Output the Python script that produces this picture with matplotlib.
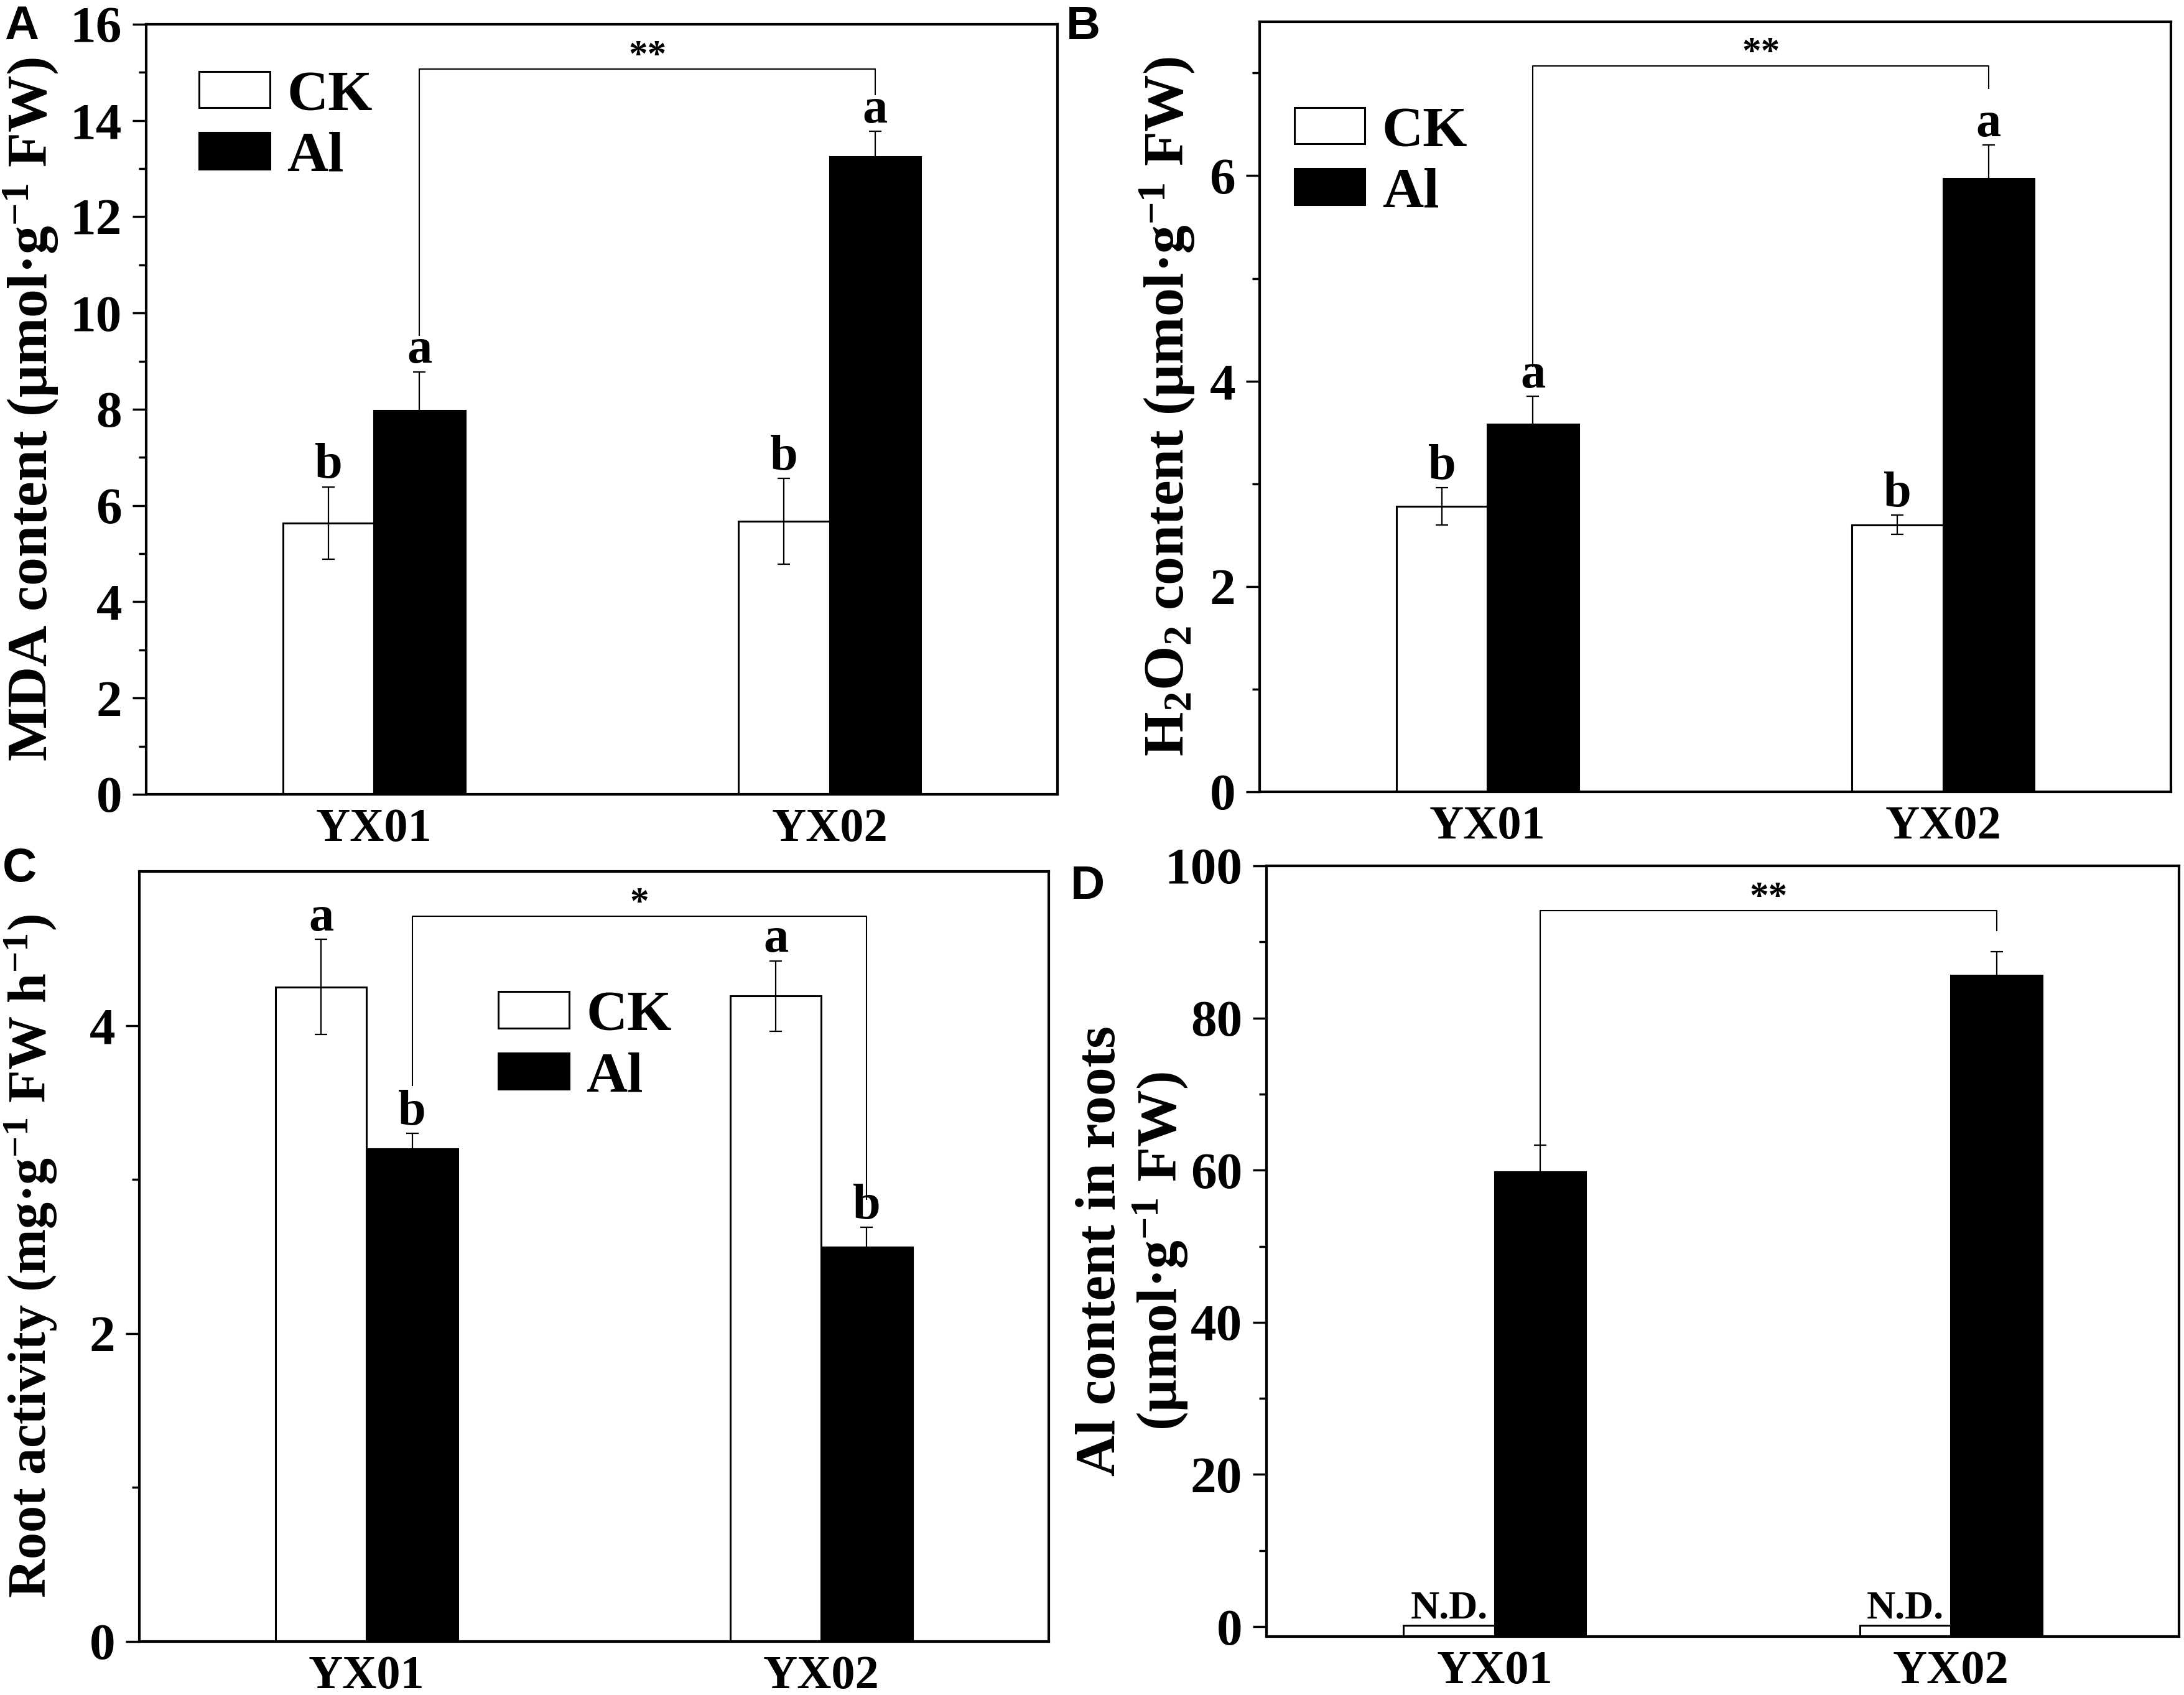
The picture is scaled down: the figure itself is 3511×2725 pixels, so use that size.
import matplotlib
matplotlib.use('Agg')
import matplotlib.pyplot as plt
from matplotlib.patches import Patch
from matplotlib.ticker import FixedLocator

plt.rcParams['font.family'] = ['Liberation Serif', 'DejaVu Serif']
plt.rcParams['font.weight'] = 'bold'
plt.rcParams['mathtext.fontset'] = 'custom'
plt.rcParams['mathtext.rm'] = 'Liberation Serif:bold'
plt.rcParams['mathtext.it'] = 'Liberation Serif:italic:bold'
plt.rcParams['mathtext.bf'] = 'Liberation Serif:bold'

groups = ['YX01', 'YX02']

# A - MDA
mda_ck = [5.64, 5.67]
mda_ck_err = [0.75, 0.89]
mda_al = [7.97, 13.25]
mda_al_err = [0.81, 0.53]
mda_ck_letters = ['b', 'b']
mda_al_letters = ['a', 'a']
mda_bracket = [9.54, 15.07, 14.54]   # left end, top, right end

# B - H2O2
h2o2_ck = [2.78, 2.60]
h2o2_ck_err = [0.18, 0.095]
h2o2_al = [3.58, 5.97]
h2o2_al_err = [0.27, 0.33]
h2o2_ck_letters = ['b', 'b']
h2o2_al_letters = ['a', 'a']
h2o2_bracket = [4.14, 7.07, 6.85]

# C - root activity
root_ck = [4.25, 4.19]
root_ck_err = [0.31, 0.23]
root_al = [3.20, 2.56]
root_al_err = [0.10, 0.13]
root_ck_letters = ['a', 'a']
root_al_letters = ['b', 'b']
root_bracket = [3.61, 4.71, 2.87]

# D - Al content in roots
alc_ck = [0.2, 0.2]
alc_al = [59.8, 85.6]
alc_al_err = [3.5, 3.1]
alc_ck_letters = ['N.D.', 'N.D.']
alc_bracket = [63.3, 94.1, 91.5]

x = [1, 2]
w = 0.2

fig = plt.figure(figsize=(35.12, 27.25), dpi=100)
axA = fig.add_axes([0.0669, 0.5314, 0.4171, 0.4543])
axB = fig.add_axes([0.5766, 0.5329, 0.4171, 0.4543])
axC = fig.add_axes([0.0638, 0.0316, 0.4162, 0.4543])
axD = fig.add_axes([0.5797, 0.0345, 0.4178, 0.4547])


def panel(ax, ck, ck_err, al, al_err, ck_let, al_let, ylim, major, minor,
          ylabel, bracket, star, ylab_x, ylab_size=66, base=0.0):
    xc = [v - w / 2 for v in x]
    xa = [v + w / 2 for v in x]
    ck_h = [v - base for v in ck]
    al_h = [v - base for v in al]
    ax.bar(xc, ck_h, w, bottom=base, color='white', edgecolor='black', linewidth=2.2, zorder=2)
    ax.bar(xa, al_h, w, bottom=base, color='black', edgecolor='black', linewidth=2.2, zorder=2)
    if ck_err is not None:
        ax.errorbar(xc, ck, yerr=ck_err, fmt='none', ecolor='black', elinewidth=1.6,
                    capsize=7, capthick=1.6, zorder=3)
        ck_top = [v + e for v, e in zip(ck, ck_err)]
    else:
        ck_top = ck
    ax.errorbar(xa, al, yerr=al_err, fmt='none', ecolor='black', elinewidth=1.6,
                capsize=7, capthick=1.6, zorder=3)
    al_top = [v + e for v, e in zip(al, al_err)]
    for xi, t, s in zip(xc, ck_top, ck_let):
        ax.annotate(s, (xi, t), xytext=(0, -2), textcoords='offset points',
                    ha='center', va='bottom', fontsize=58 if len(s) == 1 else 46,
                    fontweight='bold')
    if al_let is not None:
        for xi, t, s in zip(xa, al_top, al_let):
            ax.annotate(s, (xi, t), xytext=(0, -2), textcoords='offset points',
                        ha='center', va='bottom', fontsize=58, fontweight='bold')
    yl, yt, yr = bracket
    ax.plot([xa[0], xa[0], xa[1], xa[1]], [yl, yt, yt, yr], color='black', lw=1.5, zorder=3)
    ax.annotate(star, ((xa[0] + xa[1]) / 2, yt), xytext=(0, -6), textcoords='offset points',
                ha='center', va='bottom', fontsize=44, fontweight='bold')

    ax.set_xlim(0.5, 2.5)
    ax.set_ylim(*ylim)
    ax.set_xticks(x)
    ax.set_xticklabels(groups)
    ax.yaxis.set_major_locator(FixedLocator(major))
    ax.yaxis.set_minor_locator(FixedLocator(minor))
    ax.tick_params(axis='x', length=0, pad=16, labelsize=55)
    ax.tick_params(axis='y', which='major', direction='out', length=16, width=2.5,
                   labelsize=60, pad=12)
    ax.tick_params(axis='y', which='minor', direction='out', length=9, width=2.5)
    for t in ax.get_xticklabels() + ax.get_yticklabels():
        t.set_fontweight('bold')
    for sp in ax.spines.values():
        sp.set_linewidth(3)
    ax.set_ylabel(ylabel, fontsize=ylab_size, fontweight='bold', linespacing=1.1)
    ax.yaxis.set_label_coords(ylab_x, 0.5)


panel(axA, mda_ck, mda_ck_err, mda_al, mda_al_err, mda_ck_letters, mda_al_letters,
      (0, 16), list(range(0, 17, 2)), list(range(1, 16, 2)),
      'MDA content (μmol·g$^{-1}$ FW)', mda_bracket, '**', -0.094)
panel(axB, h2o2_ck, h2o2_ck_err, h2o2_al, h2o2_al_err, h2o2_ck_letters, h2o2_al_letters,
      (0, 7.5), [0, 2, 4, 6], [1, 3, 5, 7],
      'H$_2$O$_2$ content (μmol·g$^{-1}$ FW)', h2o2_bracket, '**', -0.069)
panel(axC, root_ck, root_ck_err, root_al, root_al_err, root_ck_letters, root_al_letters,
      (0, 5), [0, 2, 4], [1, 3],
      'Root activity (mg·g$^{-1}$ FW h$^{-1}$)', root_bracket, '*', -0.088, ylab_size=62)
panel(axD, alc_ck, None, alc_al, alc_al_err, alc_ck_letters, None,
      (-1.3, 100), [0, 20, 40, 60, 80, 100], [10, 30, 50, 70, 90],
      'Al content in roots\n(μmol·g$^{-1}$ FW)', alc_bracket, '**', -0.084, base=-1.3)

handles = [Patch(facecolor='white', edgecolor='black', linewidth=2.2),
           Patch(facecolor='black', edgecolor='black', linewidth=2.2)]
labels = ['CK', 'Al']
for ax, anchor in [(axA, (0.058, 0.94)), (axB, (0.038, 0.89)), (axC, (0.395, 0.845))]:
    ax.legend(handles, labels, loc='upper left', bbox_to_anchor=anchor, frameon=False,
              handlelength=1.24, handleheight=0.6, handletextpad=0.3,
              labelspacing=0.18, borderpad=0, borderaxespad=0,
              prop={'weight': 'bold', 'size': 66})

for lab, px, py in [('A', 0.002, 0.997), ('B', 0.488, 0.997), ('C', 0.001, 0.500), ('D', 0.490, 0.490)]:
    fig.text(px, py, lab, fontsize=55, fontweight='bold', family='Liberation Sans',
             ha='left', va='top')

fig.savefig('out.png', dpi=100)
